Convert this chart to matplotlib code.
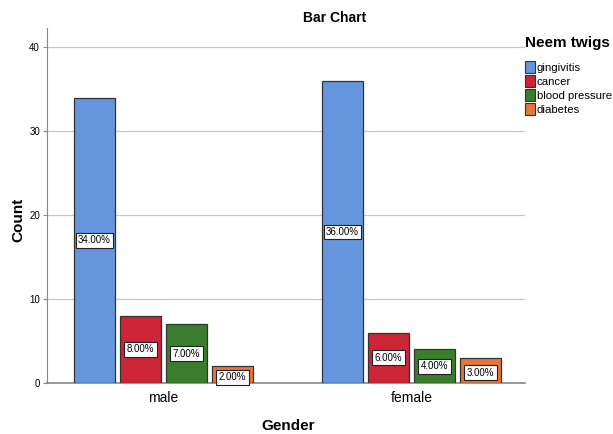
import matplotlib
matplotlib.use("Agg")
import matplotlib.pyplot as plt
import numpy as np
from matplotlib.patches import Patch

genders = ["male", "female"]
conditions = ["gingivitis", "cancer", "blood pressure", "diabetes"]
counts = {
    "gingivitis": [34, 36],
    "cancer": [8, 6],
    "blood pressure": [7, 4],
    "diabetes": [2, 3],
}
percent_labels = {
    "gingivitis": ["34.00%", "36.00%"],
    "cancer": ["8.00%", "6.00%"],
    "blood pressure": ["7.00%", "4.00%"],
    "diabetes": ["2.00%", "3.00%"],
}
colors = ["#6495dd", "#cc2535", "#3a7d2c", "#e8743b"]
yticks = [0, 10, 20, 30, 40]

plt.rcParams["font.family"] = ["Liberation Sans", "DejaVu Sans"]

fig = plt.figure(figsize=(6.13, 4.34), dpi=100)
ax = fig.add_axes([47 / 613, 1 - 383 / 434, (525 - 47) / 613, (383 - 28) / 434])

x = np.arange(len(genders))
width = 0.165
step = 0.1855
offsets = (np.arange(len(conditions)) - 1.5) * step

for i, cond in enumerate(conditions):
    vals = counts[cond]
    ax.bar(x + offsets[i], vals, width=width, color=colors[i],
           edgecolor="#333333", linewidth=0.9, zorder=3)
    for xi, v, lab in zip(x + offsets[i], vals, percent_labels[cond]):
        ax.text(xi, v / 2 - (0.3 if v < 4 else 0), lab, ha="center", va="center",
                fontsize=7, zorder=4,
                bbox=dict(boxstyle="square,pad=0.25", fc="white", ec="#222222", lw=0.8))

ax.set_xlim(-0.47, 1.458)
ax.set_ylim(0, 42.3)
ax.set_yticks(yticks)
ax.set_yticklabels([str(t) for t in yticks], fontsize=7)
ax.set_xticks(x)
ax.set_xticklabels(genders, fontsize=10)
ax.tick_params(axis="x", length=0, pad=6)
ax.tick_params(axis="y", length=3, color="#888888", pad=2)
ax.yaxis.grid(True, color="#c8c8c8", linewidth=0.9, zorder=0)
ax.set_axisbelow(True)
for s in ["top", "right"]:
    ax.spines[s].set_visible(False)
ax.spines["left"].set_color("#888888")
ax.spines["bottom"].set_color("#888888")
ax.spines["bottom"].set_linewidth(1.2)

fig.text(18 / 613, 1 - 220 / 434, "Count", rotation=90, ha="center",
         va="center", fontsize=11, fontweight="bold")
fig.text(288 / 613, 1 - 426 / 434, "Gender", ha="center", va="center",
         fontsize=11, fontweight="bold")
fig.text(335 / 613, 1 - 18 / 434, "Bar Chart", ha="center", va="center",
         fontsize=10, fontweight="bold")

handles = [Patch(facecolor=c, edgecolor="#333333", linewidth=0.8) for c in colors]
leg = fig.legend(handles, conditions, loc="upper left",
                 bbox_to_anchor=(523 / 613, 1 - 34 / 434), frameon=False,
                 fontsize=8.2, title="Neem twigs",
                 title_fontproperties={"weight": "bold", "size": 11},
                 handlelength=0.85, handleheight=1.15, handletextpad=0.15,
                 labelspacing=0.22, borderaxespad=0, borderpad=0.2)
leg._legend_box.align = "left"
leg._legend_box.sep = 8

fig.savefig("out.png", dpi=100)
